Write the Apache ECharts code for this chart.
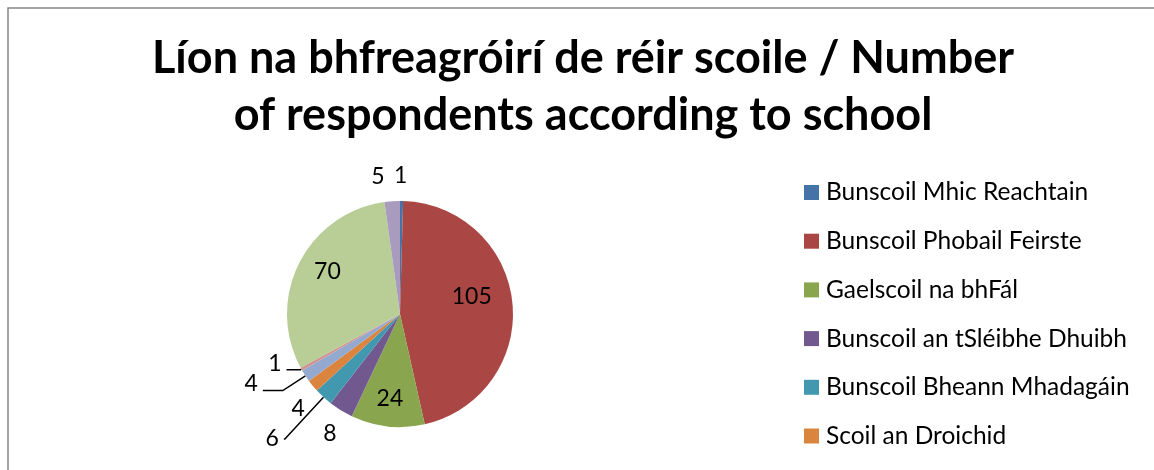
<!DOCTYPE html>
<html>
<head>
<meta charset="utf-8">
<title>Líon na bhfreagróirí de réir scoile</title>
<script src="https://cdn.jsdelivr.net/npm/echarts@6/dist/echarts.min.js"></script>
<style>
  html, body { margin: 0; padding: 0; background: #fff; overflow: hidden; }
  #pieChart { width: 1154px; height: 470px; }
</style>
</head>
<body>
<div id="pieChart"></div>
<script>
// Scoileanna, in slice order (clockwise from 12 o'clock)
// only the first six names show in the legend, the rest is cut off below the picture
const schoolNames = [
  'Bunscoil Mhic Reachtain',
  'Bunscoil Phobail Feirste',
  'Gaelscoil na bhFál',
  'Bunscoil an tSléibhe Dhuibh',
  'Bunscoil Bheann Mhadagáin',
  'Scoil an Droichid',
  'Scoil 7',
  'Scoil 8',
  'Scoil 9',
  'Scoil 10'
];
const respondents = [1, 105, 24, 8, 6, 4, 4, 1, 70, 5];
const visibleLegend = schoolNames.slice(0, 6);

const sliceColors = ['#4572A7', '#AA4643', '#89A54E', '#71588F', '#4198AF',
  '#DB843D', '#93A9CF', '#D19392', '#B9CD96', '#A99BBD'];

// label placement per slice (Excel "best fit" look)
// pad = horizontal nudge via padding, shift = vertical nudge (neg = up)
const labelSetup = [
  { pos: 'outside', len: 25, len2: -13, line: false },
  { pos: 'inside', pad: [0, 0, 0, 25], shift: -11.5 },
  { pos: 'inside', pad: [0, 7, 0, 0], shift: 25 },
  { pos: 'outside', len: 27, len2: -15, line: false },
  { pos: 'outside', len: 57, len2: 1, line: true },
  { pos: 'outside', len: 35, len2: -24, line: false },
  { pos: 'outside', len: 27, len2: 20, line: true, shift: -7 },
  { pos: 'outside', len: 1, len2: 14, line: true, shift: -6 },
  { pos: 'inside', pad: [0, 39, 0, 0], shift: -15.5 },
  { pos: 'outside', len: 25, len2: 1, line: false }
];

let myChart = echarts.init(document.getElementById('pieChart'));

let pieData = schoolNames.map(function (name, i) {
  let s = labelSetup[i];
  let shift = s.shift || 0;
  let label = {
    position: s.pos,
    padding: s.pad || 0,
    formatter: shift < 0 ? '{c}\n' : (shift > 0 ? '\n{c}' : '{c}')
  };
  if (shift) {
    label.lineHeight = Math.abs(shift) * 2;
  }
  return {
    name: name,
    value: respondents[i],
    label: label,
    labelLine: { show: !!s.line, length: s.len || 0, length2: s.len2 || 0 }
  };
});

let option = {
  color: sliceColors,
  animation: false,
  graphic: [{
    type: 'rect',
    silent: true,
    shape: { x: 8, y: 8, width: 1400, height: 800 },
    style: { fill: 'none', stroke: '#868686', lineWidth: 1.5 }
  }],
  title: {
    text: 'Líon na bhfreagróirí de réir scoile / Number\nof respondents according to school',
    left: 578,
    top: 25,
    textAlign: 'center',
    textStyle: {
      fontFamily: 'Lato',
      fontWeight: 'bold',
      fontSize: 45,
      lineHeight: 57,
      color: '#000'
    }
  },
  legend: {
    data: visibleLegend,
    orient: 'vertical',
    left: 799,
    top: 175,
    icon: 'rect',
    itemWidth: 15,
    itemHeight: 15,
    itemGap: 23.7,
    selectedMode: false,
    textStyle: {
      fontFamily: 'Lato',
      fontSize: 24.5,
      color: '#000',
      padding: [0, 0, 0, 2]
    }
  },
  series: [
    {
      name: 'Líon na bhfreagróirí',
      type: 'pie',
      center: [400, 314],
      radius: 113,
      startAngle: 90,
      clockwise: true,
      avoidLabelOverlap: false,
      label: {
        show: true,
        fontFamily: 'Lato',
        fontSize: 23,
        color: '#000'
      },
      labelLine: {
        smooth: false,
        lineStyle: { color: '#000', width: 1.5 }
      },
      itemStyle: { borderWidth: 0 },
      emphasis: { disabled: true },
      data: pieData
    }
  ]
};

myChart.setOption(option);
</script>
</body>
</html>
